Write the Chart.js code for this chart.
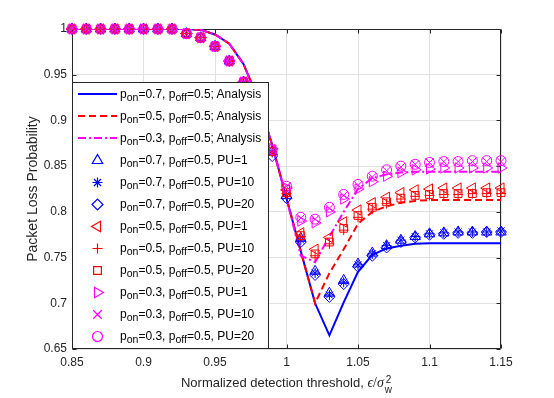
<!DOCTYPE html>
<html>
<head>
<meta charset="utf-8">
<style>
  html, body { margin: 0; padding: 0; background: #fff; }
  #wrap { position: relative; width: 554px; height: 398px; font-family: 'Liberation Sans', Arial, sans-serif; }
  #chart { position: absolute; left: 0; top: 0; }
  #legend { position: absolute; left: 72px; top: 82px; width: 197px; height: 267px; box-sizing: border-box;
            border: 1px solid #262626; background: #fff; }
  .row { height: 22px; display: flex; align-items: center; }
  .row canvas { flex: none; display: block; }
  .t { font-size: 12px; color: #000; white-space: nowrap; }
  .t sub { font-size: 10.5px; vertical-align: -3px; line-height: 0; }
  #xtitle { position: absolute; left: 0; width: 573px; top: 375px; text-align: center; font-size: 13px;
            line-height: 15px; color: #262626; white-space: nowrap; }
  .mi { font-family: 'Liberation Serif', 'DejaVu Serif', serif; font-style: italic; font-size: 14px; }
  .mo { font-family: 'Liberation Serif', 'DejaVu Serif', serif; font-size: 14px; }
  .ss { display: inline-block; vertical-align: -6px; font-size: 10px; line-height: 10px; margin-left: 1px; }
  .ss span { display: block; }
</style>
<script src="https://cdn.jsdelivr.net/npm/chart.js@4.4.1/dist/chart.umd.min.js"></script>
</head>
<body>
<div id="wrap">
  <canvas id="chart" width="554" height="398"></canvas>
  <div id="legend"></div>
  <div id="xtitle">Normalized detection threshold, <span class="mi">&#x3F5;</span><span class="mo">/</span><span class="mi">&#x3C3;</span><span class="ss"><span>2</span><span>w</span></span></div>
</div>
<script>
// detection thresholds (x)
const thresholds = [0.85, 0.86, 0.87, 0.88, 0.89, 0.90, 0.91, 0.92, 0.93, 0.94, 0.95, 0.96, 0.97, 0.98, 0.99, 1.00,
  1.01, 1.02, 1.03, 1.04, 1.05, 1.06, 1.07, 1.08, 1.09, 1.10, 1.11, 1.12, 1.13, 1.14, 1.15];
const xTicks = [0.85, 0.9, 0.95, 1, 1.05, 1.1, 1.15];
const xTickLabels = ['0.85', '0.9', '0.95', '1', '1.05', '1.1', '1.15'];
const yTicks = [0.65, 0.7, 0.75, 0.8, 0.85, 0.9, 0.95, 1];
const yTickLabels = ['0.65', '0.7', '0.75', '0.8', '0.85', '0.9', '0.95', '1'];

// analysis curves
const analysisOn07 = [1, 1, 1, 1, 1, 1, 1, 1, 1, 0.999, 0.994, 0.984, 0.9615, 0.924, 0.873, 0.815,
  0.757, 0.700, 0.665, 0.701, 0.7345, 0.753, 0.760, 0.763, 0.765, 0.7656, 0.7656, 0.7656, 0.7656, 0.7656, 0.7656];
const analysisOn05 = [1, 1, 1, 1, 1, 1, 1, 1, 1, 0.999, 0.994, 0.984, 0.9615, 0.924, 0.873, 0.815,
  0.757, 0.700, 0.733, 0.759, 0.787, 0.800, 0.806, 0.810, 0.812, 0.813, 0.813, 0.813, 0.813, 0.813, 0.813];
const analysisOn03 = [1, 1, 1, 1, 1, 1, 1, 1, 1, 0.999, 0.994, 0.984, 0.9615, 0.924, 0.873, 0.815,
  0.752, 0.745, 0.773, 0.800, 0.825, 0.837, 0.841, 0.843, 0.844, 0.844, 0.844, 0.844, 0.844, 0.844, 0.844];

// simulation points
const simOn07Pu1 = [1, 1, 1, 1, 1, 1, 1, 1, 0.995, 0.9905, 0.981, 0.965, 0.942, 0.91, 0.866, 0.818,
  0.771, 0.735, 0.711, 0.725, 0.743, 0.755, 0.763, 0.769, 0.773, 0.776, 0.777, 0.778, 0.778, 0.778, 0.778];
const simOn07Pu10 = [1, 1, 1, 1, 1, 1, 1, 1, 0.995, 0.9905, 0.981, 0.965, 0.942, 0.91, 0.865, 0.817,
  0.769, 0.733, 0.709, 0.723, 0.742, 0.754, 0.763, 0.769, 0.773, 0.776, 0.777, 0.778, 0.778, 0.778, 0.779];
const simOn07Pu20 = [1, 1, 1, 1, 1, 1, 1, 1, 0.995, 0.9905, 0.981, 0.965, 0.942, 0.91, 0.861, 0.815,
  0.767, 0.731, 0.707, 0.721, 0.740, 0.752, 0.761, 0.767, 0.772, 0.775, 0.776, 0.777, 0.777, 0.778, 0.778];
const simOn05Pu1 = [1, 1, 1, 1, 1, 1, 1, 1, 0.995, 0.9905, 0.981, 0.965, 0.942, 0.91, 0.868, 0.824,
  0.777, 0.759, 0.772, 0.789, 0.802, 0.810, 0.816, 0.821, 0.824, 0.825, 0.826, 0.826, 0.826, 0.826, 0.826];
const simOn05Pu10 = [1, 1, 1, 1, 1, 1, 1, 1, 0.995, 0.9905, 0.981, 0.965, 0.942, 0.91, 0.866, 0.820,
  0.773, 0.752, 0.765, 0.780, 0.794, 0.803, 0.809, 0.814, 0.817, 0.818, 0.819, 0.819, 0.820, 0.820, 0.820];
const simOn05Pu20 = [1, 1, 1, 1, 1, 1, 1, 1, 0.995, 0.9905, 0.981, 0.965, 0.942, 0.91, 0.866, 0.821,
  0.774, 0.754, 0.767, 0.782, 0.796, 0.805, 0.811, 0.815, 0.818, 0.819, 0.820, 0.820, 0.820, 0.821, 0.821];
const simOn03Pu1 = [1, 1, 1, 1, 1, 1, 1, 1, 0.995, 0.9905, 0.981, 0.965, 0.942, 0.91, 0.869, 0.826,
  0.790, 0.788, 0.800, 0.814, 0.825, 0.833, 0.839, 0.843, 0.846, 0.847, 0.848, 0.848, 0.848, 0.848, 0.848];
const simOn03Pu10 = [1, 1, 1, 1, 1, 1, 1, 1, 0.995, 0.9905, 0.981, 0.965, 0.942, 0.91, 0.868, 0.828,
  0.793, 0.792, 0.804, 0.818, 0.829, 0.838, 0.845, 0.849, 0.852, 0.854, 0.855, 0.855, 0.855, 0.855, 0.855];
const simOn03Pu20 = [1, 1, 1, 1, 1, 1, 1, 1, 0.995, 0.9905, 0.981, 0.965, 0.942, 0.91, 0.868, 0.828,
  0.794, 0.792, 0.805, 0.819, 0.830, 0.839, 0.846, 0.850, 0.852, 0.854, 0.855, 0.855, 0.856, 0.856, 0.856];

const seriesValues = [analysisOn07, analysisOn05, analysisOn03,
  simOn07Pu1, simOn07Pu10, simOn07Pu20, simOn05Pu1, simOn05Pu10, simOn05Pu20, simOn03Pu1, simOn03Pu10, simOn03Pu20];
const seriesPon = ['0.7', '0.5', '0.3', '0.7', '0.7', '0.7', '0.5', '0.5', '0.5', '0.3', '0.3', '0.3'];
const seriesSuffix = ['; Analysis', '; Analysis', '; Analysis', ', PU=1', ', PU=10', ', PU=20',
  ', PU=1', ', PU=10', ', PU=20', ', PU=1', ', PU=10', ', PU=20'];

const BLUE = '#0000ff', RED = '#ff0000', MAG = '#ff00ff';
const styles = [
  { color: BLUE, dash: [] },
  { color: RED, dash: [7, 4] },
  { color: MAG, dash: [8, 3, 2, 3] },
  { color: BLUE, point: 'triangle', rot: 0, r: 6 },
  { color: BLUE, point: 'star', rot: 0, r: 5 },
  { color: BLUE, point: 'rectRot', rot: 0, r: 5.5 },
  { color: RED, point: 'triangle', rot: -90, r: 6 },
  { color: RED, point: 'cross', rot: 0, r: 5 },
  { color: RED, point: 'rect', rot: 0, r: 5.5 },
  { color: MAG, point: 'triangle', rot: 90, r: 6 },
  { color: MAG, point: 'crossRot', rot: 0, r: 6 },
  { color: MAG, point: 'circle', rot: 0, r: 5 }
];

const labelHtml = i => `p<sub>on</sub>=${seriesPon[i]}, p<sub>off</sub>=0.5${seriesSuffix[i]}`;

const datasets = seriesValues.map((vals, i) => {
  const st = styles[i];
  const base = {
    data: thresholds.map((x, k) => ({ x, y: vals[k] })),
    order: 100 - i
  };
  if (st.point) {
    return Object.assign(base, {
      showLine: false, clip: false,
      pointStyle: st.point, pointRotation: st.rot, pointRadius: st.r,
      pointBorderColor: st.color, pointBackgroundColor: 'rgba(0,0,0,0)', pointBorderWidth: 1
    });
  }
  return Object.assign(base, {
    showLine: true, borderColor: st.color, borderWidth: 2, borderDash: st.dash,
    pointRadius: 0, tension: 0, fill: false
  });
});

// MATLAB-like box with inward ticks
const axesFrame = {
  id: 'axesFrame',
  beforeDatasetsDraw(chart) {
    const { ctx, chartArea: a, scales } = chart;
    const L = Math.round(a.left) + 0.5, R = Math.round(a.right) - 0.5;
    const T = Math.round(a.top) + 0.5, B = Math.round(a.bottom) - 0.5;
    ctx.save();
    ctx.strokeStyle = '#262626';
    ctx.lineWidth = 1;
    ctx.beginPath();
    ctx.rect(L, T, R - L, B - T);
    xTicks.forEach(v => {
      const px = Math.round(scales.x.getPixelForValue(v)) + 0.5;
      ctx.moveTo(px, B); ctx.lineTo(px, B - 4);
      ctx.moveTo(px, T); ctx.lineTo(px, T + 4);
    });
    yTicks.forEach(v => {
      const py = Math.round(scales.y.getPixelForValue(v)) + 0.5;
      ctx.moveTo(L, py); ctx.lineTo(L + 4, py);
      ctx.moveTo(R, py); ctx.lineTo(R - 4, py);
    });
    ctx.stroke();
    ctx.restore();
  }
};

Chart.defaults.font.family = "'Liberation Sans', Arial, sans-serif";

new Chart(document.getElementById('chart'), {
  type: 'scatter',
  data: { datasets },
  options: {
    responsive: false,
    animation: false,
    devicePixelRatio: 1,
    layout: { padding: { top: 29, right: 53, left: 0, bottom: 0 } },
    plugins: { legend: { display: false }, tooltip: { enabled: false } },
    scales: {
      x: {
        type: 'linear', min: 0.85, max: 1.15,
        afterBuildTicks: s => { s.ticks = xTicks.map(v => ({ value: v })); },
        afterFit: s => { s.height = 49; },
        grid: { color: '#e1e1e1', drawTicks: false },
        border: { display: false },
        ticks: { padding: 6, color: '#262626', font: { size: 12 }, maxRotation: 0, autoSkip: false,
                 callback: (v, i) => xTickLabels[i] }
      },
      y: {
        type: 'linear', min: 0.65, max: 1,
        afterBuildTicks: s => { s.ticks = yTicks.map(v => ({ value: v })); },
        afterFit: s => { s.width = 72; },
        grid: { color: '#e1e1e1', drawTicks: false },
        border: { display: false },
        ticks: { padding: 5, color: '#262626', font: { size: 12 }, autoSkip: false,
                 callback: (v, i) => yTickLabels[i] },
        title: { display: true, text: 'Packet Loss Probability', color: '#262626',
                 font: { size: 14 }, padding: { top: 25, bottom: 0 } }
      }
    }
  },
  plugins: [axesFrame]
});

// legend with subscripts
const legendEl = document.getElementById('legend');
styles.forEach((st, i) => {
  const row = document.createElement('div');
  row.className = 'row';
  const c = document.createElement('canvas');
  c.width = 47; c.height = 22;
  const g = c.getContext('2d');
  g.strokeStyle = st.color;
  if (st.point) {
    g.lineWidth = 1.2;
    g.fillStyle = 'rgba(0,0,0,0)';
    Chart.helpers.drawPoint(g, { pointStyle: st.point, radius: st.r, rotation: st.rot, borderWidth: 1.2 }, 24.5, 11.5);
  } else {
    g.lineWidth = 2;
    g.setLineDash(st.dash);
    g.beginPath();
    g.moveTo(5, 11);
    g.lineTo(44, 11);
    g.stroke();
  }
  row.appendChild(c);
  const t = document.createElement('span');
  t.className = 't';
  t.innerHTML = labelHtml(i);
  row.appendChild(t);
  legendEl.appendChild(row);
});
</script>
</body>
</html>
